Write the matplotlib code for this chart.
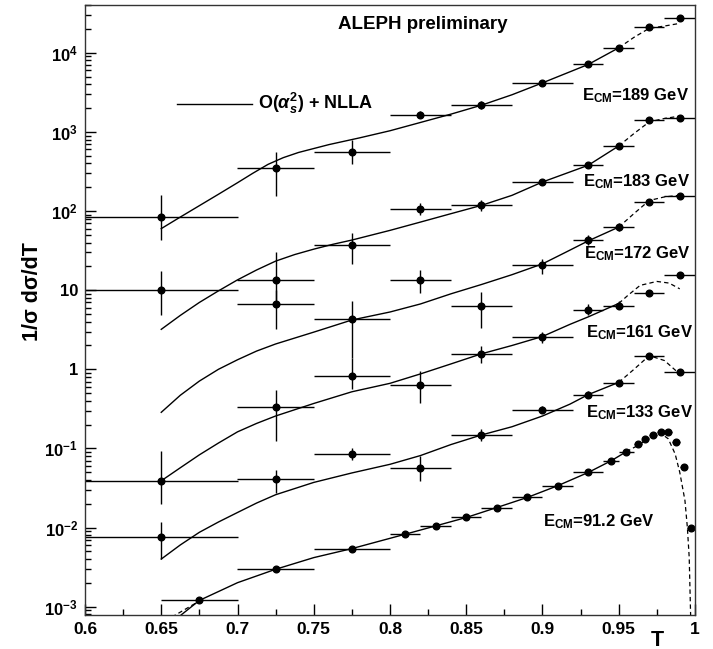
import numpy as np
import matplotlib
matplotlib.use("Agg")
import matplotlib.pyplot as plt
from matplotlib.ticker import MultipleLocator, LogLocator, NullFormatter

plt.rcParams['font.family'] = ['Liberation Sans', 'DejaVu Sans']
plt.rcParams['font.weight'] = 'bold'
plt.rcParams['mathtext.fontset'] = 'custom'
plt.rcParams['mathtext.rm'] = 'Liberation Sans:bold'
plt.rcParams['mathtext.it'] = 'Liberation Sans:bold:italic'
plt.rcParams['mathtext.bf'] = 'Liberation Sans:bold'

nan = np.nan

# LEP2 binning (thrust bin centres and half widths)
t_lep2 = [0.65, 0.725, 0.775, 0.82, 0.86, 0.90, 0.93, 0.95, 0.97, 0.99]
hw_lep2 = [0.05, 0.025, 0.025, 0.02, 0.02, 0.02, 0.01, 0.01, 0.01, 0.01]

# data points, scaled per energy as in the plot
y189 = [84, 354, 558, 1660, 2180, 4170, 7130, 11600, 20900, 27700]
lo189 = [43, 153, 398, 1480, 1950, 3900, 6700, 11000, 19800, 26500]
hi189 = [158, 558, 785, 1860, 2450, 4450, 7600, 12200, 22000, 29000]

y183 = [10, 13.6, 37.6, 107, 118, 233, 379, 665, 1406, 1520]
lo183 = [4.9, 7.5, 21.6, 88, 100, 212, 350, 625, 1340, 1450]
hi183 = [17.4, 30, 52.6, 126, 138, 255, 410, 705, 1470, 1590]

y172 = [nan, 6.7, 4.3, 13.6, 6.4, 20.9, 43, 62.7, 130, 153]
lo172 = [nan, 3.2, 1.4, 9.2, 3.3, 16.1, 37, 56, 122, 145]
hi172 = [nan, 10, 7.4, 17.8, 9.4, 25, 50, 70, 139, 162]

y161 = [0.039, 0.33, 0.83, 0.635, 1.57, 2.54, 5.65, 6.4, 9.3, 15.7]
lo161 = [0.0198, 0.123, 0.565, 0.38, 1.2, 2.15, 4.9, 5.7, 8.6, 14.6]
hi161 = [0.094, 0.54, 1.4, 0.95, 1.95, 3.0, 6.6, 7.3, 10.1, 17.0]

y133 = [0.0075, 0.041, 0.085, 0.056, 0.148, 0.31, 0.48, 0.68, 1.47, 0.92]
lo133 = [0.004, 0.0277, 0.072, 0.039, 0.125, 0.28, 0.44, 0.63, 1.40, 0.84]
hi133 = [0.0116, 0.054, 0.1, 0.081, 0.175, 0.345, 0.53, 0.74, 1.55, 1.01]

t91 = [0.675, 0.725, 0.775, 0.81, 0.83, 0.85, 0.87, 0.89, 0.91, 0.93, 0.945, 0.955,
       0.9625, 0.9675, 0.9725, 0.9775, 0.9825, 0.9875, 0.9925, 0.9975]
hw91 = [0.025, 0.025, 0.025, 0.01, 0.01, 0.01, 0.01, 0.01, 0.01, 0.01, 0.005, 0.005,
        0.0025, 0.0025, 0.0025, 0.0025, 0.0025, 0.0025, 0.0025, 0.0025]
y91 = [0.0012, 0.00297, 0.00542, 0.00824, 0.0105, 0.0134, 0.0179, 0.024, 0.0338, 0.0497,
       0.0698, 0.091, 0.113, 0.131, 0.149, 0.159, 0.159, 0.122, 0.059, 0.0100]

# O(as^2)+NLLA curves (solid in fit range, dashed outside)
c189_t = [0.65, 0.6625, 0.675, 0.6875, 0.70, 0.71, 0.72, 0.73, 0.74, 0.75, 0.76, 0.78, 0.80,
          0.82, 0.84, 0.86, 0.88, 0.90, 0.93, 0.95]
c189_y = [60, 84, 117, 163, 228, 300, 389, 473, 550, 617, 692, 841, 1035,
          1318, 1679, 2178, 2950, 4170, 7130, 11560]
d189_t = [0.95, 0.96, 0.97, 0.98, 0.99]
d189_y = [11560, 15700, 20400, 21800, 23550]

c183_t = [0.65, 0.6625, 0.675, 0.6875, 0.70, 0.7125, 0.725, 0.7375, 0.75, 0.7625, 0.775,
          0.80, 0.82, 0.84, 0.86, 0.88, 0.90, 0.93, 0.95]
c183_y = [3.2, 4.8, 7.0, 9.8, 13.5, 18.0, 23.3, 28.2, 33, 38, 43,
          57, 72.6, 92.7, 118, 158, 233, 379, 665]
d183_t = [0.95, 0.96, 0.97, 0.98, 0.99]
d183_y = [665, 955, 1340, 1480, 1585]

c172_t = [0.65, 0.6625, 0.675, 0.6875, 0.70, 0.7125, 0.725, 0.75, 0.775, 0.80, 0.82, 0.84,
          0.86, 0.88, 0.90, 0.915, 0.93, 0.95]
c172_y = [0.286, 0.47, 0.71, 1.0, 1.32, 1.7, 2.09, 2.95, 4.2, 5.3, 6.7, 9.0,
          11.8, 15.7, 21.5, 30, 42, 62.7]
d172_t = [0.95, 0.96, 0.97, 0.98, 0.99]
d172_y = [62.7, 93, 136, 151, 158]

c161_t = [0.65, 0.6625, 0.675, 0.6875, 0.70, 0.7125, 0.725, 0.75, 0.775, 0.80, 0.82, 0.84,
          0.86, 0.88, 0.90, 0.918, 0.93, 0.95]
c161_y = [0.039, 0.057, 0.083, 0.117, 0.162, 0.207, 0.257, 0.37, 0.52, 0.665, 0.875, 1.17,
          1.57, 2.0, 2.6, 3.7, 4.6, 6.8]
d161_t = [0.95, 0.956, 0.964, 0.975, 0.983, 0.99]
d161_y = [6.8, 8.6, 11.5, 12.9, 12.3, 10.4]

c133_t = [0.65, 0.6625, 0.675, 0.6875, 0.70, 0.7125, 0.725, 0.75, 0.775, 0.80, 0.82, 0.84,
          0.86, 0.88, 0.90, 0.918, 0.93, 0.95]
c133_y = [0.004, 0.00603, 0.00871, 0.01175, 0.0155, 0.0204, 0.026, 0.0372, 0.049, 0.063, 0.0813, 0.112,
          0.148, 0.188, 0.257, 0.363, 0.479, 0.684]
d133_t = [0.95, 0.96, 0.97, 0.98, 0.99]
d133_y = [0.684, 1.0, 1.49, 1.29, 0.87]

c91_t = [0.663, 0.675, 0.70, 0.725, 0.75, 0.775, 0.81, 0.83, 0.85, 0.87, 0.89, 0.91, 0.93, 0.945, 0.955]
c91_y = [0.000785, 0.0012, 0.00201, 0.00297, 0.00417, 0.00542, 0.00824, 0.0105, 0.0134, 0.0179,
         0.024, 0.0338, 0.0497, 0.0698, 0.091]
d91_t = [0.955, 0.964, 0.9705, 0.977, 0.9825, 0.987, 0.990, 0.9934, 0.995, 0.9962, 0.997, 0.9972]
d91_y = [0.091, 0.113, 0.138, 0.159, 0.132, 0.085, 0.05, 0.022, 0.01, 0.0042, 0.00098, 0.0007]
d91lo_t = [0.657, 0.675]
d91lo_y = [0.00074, 0.00118]

labels = ['E$_{\\mathbf{CM}}$=189 GeV', 'E$_{\\mathbf{CM}}$=183 GeV', 'E$_{\\mathbf{CM}}$=172 GeV',
          'E$_{\\mathbf{CM}}$=161 GeV', 'E$_{\\mathbf{CM}}$=133 GeV', 'E$_{\\mathbf{CM}}$=91.2 GeV']
label_pos = [(0.814, 0.844), (0.816, 0.703), (0.818, 0.585), (0.821, 0.456), (0.821, 0.324), (0.751, 0.145)]

fig = plt.figure(figsize=(7.13, 6.49), dpi=100)
ax = fig.add_axes([85 / 713, 34 / 649, 610 / 713, 610 / 649])

dash = (0, (3.5, 2.5))
for ct, cy, dt, dy in [(c189_t, c189_y, d189_t, d189_y), (c183_t, c183_y, d183_t, d183_y),
                       (c172_t, c172_y, d172_t, d172_y), (c161_t, c161_y, d161_t, d161_y),
                       (c133_t, c133_y, d133_t, d133_y), (c91_t, c91_y, d91_t, d91_y)]:
    ax.plot(ct, cy, color='black', lw=1.0)
    ax.plot(dt, dy, color='black', lw=0.9, linestyle=dash)
ax.plot(d91lo_t, d91lo_y, color='black', lw=0.9, linestyle=dash)

for y, lo, hi in [(y189, lo189, hi189), (y183, lo183, hi183), (y172, lo172, hi172),
                  (y161, lo161, hi161), (y133, lo133, hi133)]:
    y = np.array(y, dtype=float)
    yerr = [y - np.array(lo), np.array(hi) - y]
    ax.errorbar(t_lep2, y, xerr=hw_lep2, yerr=yerr, fmt='o', color='black',
                ms=4.8, elinewidth=1.0, capsize=0)
ax.errorbar(t91, y91, xerr=hw91, fmt='o', color='black', ms=4.8, elinewidth=1.0, capsize=0)

ax.set_yscale('log')
ax.set_xlim(0.6, 1.0)
ax.set_ylim(7.85e-4, 4.02e4)

ax.set_xticks(np.arange(0.6, 1.001, 0.05))
ax.set_xticklabels(['0.6', '0.65', '0.7', '0.75', '0.8', '0.85', '0.9', '0.95', '1'])
ax.xaxis.set_minor_locator(MultipleLocator(0.025))
yt = [1e-3, 1e-2, 1e-1, 1, 10, 1e2, 1e3, 1e4]
ax.set_yticks(yt)
ax.set_yticklabels(['$\\mathbf{10^{-3}}$', '$\\mathbf{10^{-2}}$', '$\\mathbf{10^{-1}}$', '1', '10',
                    '$\\mathbf{10^{2}}$', '$\\mathbf{10^{3}}$', '$\\mathbf{10^{4}}$'])
ax.yaxis.set_minor_locator(LogLocator(base=10, subs=np.arange(2, 10), numticks=20))
ax.yaxis.set_minor_formatter(NullFormatter())
ax.tick_params(which='both', direction='in', top=False, right=False)
ax.tick_params(which='major', length=8, width=1.0)
ax.tick_params(which='minor', length=4.5, width=1.0)
ax.tick_params(axis='x', labelsize=12.5, pad=5)
ax.tick_params(axis='y', labelsize=12, pad=5)
for s in ax.spines.values():
    s.set_linewidth(1.0)
    s.set_color('#333333')

ax.text(0.415, 0.960, 'ALEPH preliminary', transform=ax.transAxes, fontsize=13.5, va='baseline')
ax.plot([0.150, 0.274], [0.838, 0.838], transform=ax.transAxes, color='black', lw=1.0)
ax.text(0.2836, 0.838, 'O($\\alpha_s^2$) + NLLA', transform=ax.transAxes, fontsize=13, va='center')
for lab, (lx, ly) in zip(labels, label_pos):
    ax.text(lx, ly, lab, transform=ax.transAxes, fontsize=12, va='baseline')

fig.text(33 / 713, 1 - 292 / 649, '1/σ dσ/dT', rotation=90, fontsize=15.5, ha='center', va='center')
fig.text(657 / 713, 1 - 640 / 649, 'T', fontsize=15.5, ha='center', va='center')

fig.savefig("out.png", dpi=100)
